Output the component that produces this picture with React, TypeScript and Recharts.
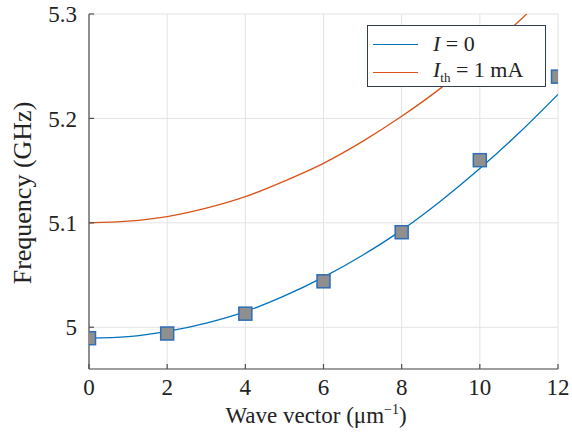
import { ComposedChart, Line, Scatter, XAxis, YAxis, CartesianGrid } from 'recharts';

const waveVector = [0, 1, 2, 3, 4, 5, 6, 7, 8, 9, 10, 11, 12];
const freqNoCurrent = [4.9895, 4.991, 4.996, 5.004, 5.015, 5.03, 5.048, 5.069, 5.093, 5.121, 5.152, 5.186, 5.223];
const freqThreshold = [5.1, 5.1016, 5.106, 5.114, 5.125, 5.14, 5.157, 5.178, 5.202, 5.229, 5.26, 5.293, 5.33];
const measuredK = [0, 2, 4, 6, 8, 10, 12];
const measuredFreq = [4.9895, 4.994, 5.013, 5.044, 5.091, 5.16, 5.24];
const xTicks = [0, 2, 4, 6, 8, 10, 12];
const yTicks = [5, 5.1, 5.2, 5.3];

const BLUE = '#0072BD';
const ORANGE = '#D95319';
const AXIS = '#4d4d4d';
const FONT = 'Liberation Serif';

const lineData = waveVector.map((k, i) => ({ k, a: freqNoCurrent[i], b: freqThreshold[i] }));
const pointData = measuredK.map((k, i) => ({ k, f: measuredFreq[i] }));

const tickStyle = { fontSize: 23, fontFamily: FONT, fill: '#222' };

const Square = (props: any) => {
  const { cx, cy } = props;
  return <rect x={cx - 6.5} y={cy - 6.5} width={13} height={13} fill="#8f8f8f" stroke="#2f6db5" strokeWidth={1.5} />;
};

const LegendBox = () => (
  <div
    style={{
      position: 'absolute',
      left: 367,
      top: 25,
      border: '1.5px solid #2e3d52',
      background: '#fff',
      width: 177,
      height: 60,
      fontFamily: FONT,
      fontSize: 22,
      color: '#222',
      lineHeight: 1,
    }}
  >
    <div style={{ display: 'flex', alignItems: 'center', height: 28, marginTop: 4 }}>
      <div style={{ width: 45, borderTop: `1.5px solid ${BLUE}`, marginLeft: 5, marginRight: 15 }} />
      <span>
        <i>I</i> = 0
      </span>
    </div>
    <div style={{ display: 'flex', alignItems: 'center', height: 28 }}>
      <div style={{ width: 45, borderTop: `1.5px solid ${ORANGE}`, marginLeft: 5, marginRight: 15 }} />
      <span>
        <i>I</i>
        <sub style={{ fontSize: 13 }}>th</sub> = 1 mA
      </span>
    </div>
  </div>
);

export default function App() {
  return (
    <div style={{ position: 'absolute', left: 0, top: 0, background: '#fff', width: 572, height: 435, fontFamily: FONT }}>
      <ComposedChart width={572} height={435} margin={{ top: 14, right: 14, bottom: 0, left: 0 }}>
        <CartesianGrid stroke="#e3e3e3" />
        <XAxis
          dataKey="k"
          type="number"
          domain={[0, 12]}
          ticks={xTicks}
          allowDataOverflow
          height={66}
          stroke={AXIS}
          strokeWidth={1.2}
          tickSize={-5}
          tickMargin={15}
          tick={tickStyle}
          label={{
            content: () => (
              <text x={316} y={423} textAnchor="middle" fontSize={23} fontFamily={FONT} fill="#222">
                Wave vector (μm
                <tspan dy={-9} fontSize={14}>−1</tspan>
                <tspan dy={9}>)</tspan>
              </text>
            ),
          }}
        />
        <YAxis
          type="number"
          domain={[4.96, 5.3]}
          ticks={yTicks}
          allowDataOverflow
          width={89}
          stroke={AXIS}
          strokeWidth={1.2}
          tickSize={-5}
          tickMargin={17}
          tick={tickStyle}
          label={{
            content: () => (
              <text
                x={31}
                y={193}
                transform="rotate(-90 31 193)"
                textAnchor="middle"
                fontSize={26}
                fontFamily={FONT}
                fill="#222"
              >
                Frequency (GHz)
              </text>
            ),
          }}
        />
        <Line
          data={lineData}
          dataKey="a"
          type="monotone"
          stroke={BLUE}
          strokeWidth={1.3}
          dot={false}
          isAnimationActive={false}
        />
        <Line
          data={lineData}
          dataKey="b"
          type="monotone"
          stroke={ORANGE}
          strokeWidth={1.3}
          dot={false}
          isAnimationActive={false}
        />
        <Scatter data={pointData} dataKey="f" shape={<Square />} isAnimationActive={false} />
      </ComposedChart>
      <LegendBox />
    </div>
  );
}
